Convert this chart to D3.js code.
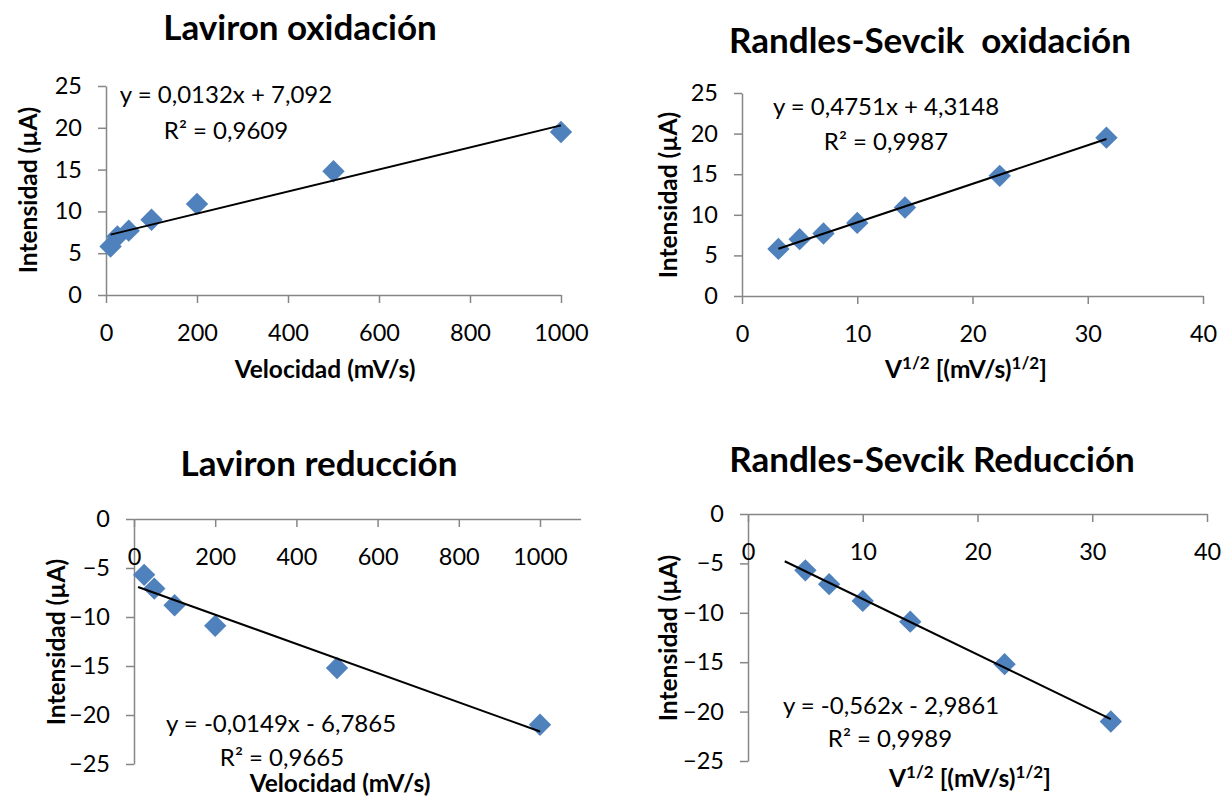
<!DOCTYPE html>
<html><head><meta charset="utf-8">
<script src="https://cdn.jsdelivr.net/npm/d3@7"></script>
<style>
body{margin:0;background:#fff}
text{font-family:Lato,'Open Sans',sans-serif;fill:#000}
</style>
</head><body>
<svg id="chart" width="1221" height="796"></svg>
<script>
// ---------- data ----------
const velocidadOx = [10, 25, 50, 100, 200, 500, 1000];
const raizVelOx = [3.16, 5.00, 7.07, 10.00, 14.14, 22.36, 31.62];
const intensidadOx = [5.8, 7.0, 7.7, 9.0, 10.9, 14.8, 19.5];
const velocidadRed = [25, 50, 100, 200, 500, 1000];
const raizVelRed = [5.00, 7.07, 10.00, 14.14, 22.36, 31.62];
const intensidadRed = [-5.7, -7.1, -8.8, -10.9, -15.2, -21.0];

const chartTitles = ["Laviron oxidación", "Randles-Sevcik  oxidación", "Laviron reducción", "Randles-Sevcik Reducción"];
const ticksVel = [0, 200, 400, 600, 800, 1000];
const ticksRaiz = [0, 10, 20, 30, 40];
const ticksOx = [0, 5, 10, 15, 20, 25];
const ticksRed = [0, -5, -10, -15, -20, -25];

const trendSlopes = [0.0132, 0.4751, -0.0149, -0.562];
const trendIntercepts = [7.092, 4.3148, -6.7865, -2.9861];
const trendFrom = [10, 3.16, 10, 3.2];
const trendTo = [1000, 31.62, 1000, 31.62];
const eqLabels = ["y = 0,0132x + 7,092", "y = 0,4751x + 4,3148", "y = -0,0149x - 6,7865", "y = -0,562x - 2,9861"];
const r2Labels = ["R² = 0,9609", "R² = 0,9987", "R² = 0,9665", "R² = 0,9989"];

// ---------- layout ----------
const panels = [
  {xs: velocidadOx, ys: intensidadOx, xDom: [0, 1000], yDom: [0, 25], xTicks: ticksVel, yTicks: ticksOx,
   xR: [106, 561], yR: [295, 86], title: [300, 40], xt: [325, 378], yt: [37, 190], eq: [226, 103], r2: [226, 139], raiz: false},
  {xs: raizVelOx, ys: intensidadOx, xDom: [0, 40], yDom: [0, 25], xTicks: ticksRaiz, yTicks: ticksOx,
   xR: [742, 1203], yR: [296, 93], title: [930, 53], xt: [966, 378], yt: [677, 195], eq: [886, 115], r2: [886, 150], raiz: true},
  {xs: velocidadRed, ys: intensidadRed, xDom: [0, 1100], yDom: [0, -25], xTicks: ticksVel, yTicks: ticksRed,
   xR: [134, 580.6], yR: [519, 764], title: [319, 476], xt: [340, 792], yt: [65, 642], eq: [281, 732], r2: [282, 766], raiz: false},
  {xs: raizVelRed, ys: intensidadRed, xDom: [0, 40], yDom: [0, -25], xTicks: ticksRaiz, yTicks: ticksRed,
   xR: [748, 1207], yR: [514, 761], title: [932, 472], xt: [970, 787], yt: [677, 638], eq: [891, 714], r2: [890, 747], raiz: true}
];

const svg = d3.select("#chart");
const axisColor = "#868686";
const markerColor = "#4F81BD";

panels.forEach((p, i) => {
  const g = svg.append("g");
  const x = d3.scaleLinear().domain(p.xDom).range(p.xR);
  const y = d3.scaleLinear().domain(p.yDom).range(p.yR);

  // y axis
  const ya = g.append("g").attr("transform", `translate(${p.xR[0]},0)`)
    .call(d3.axisLeft(y).tickValues(p.yTicks).tickSize(8).tickSizeOuter(0).tickPadding(16).tickFormat(d3.format("d")));
  // x axis (at y = 0)
  const xa = g.append("g").attr("transform", `translate(0,${y(0)})`)
    .call(d3.axisBottom(x).tickValues(p.xTicks).tickSize(8).tickSizeOuter(0).tickPadding(21).tickFormat(d3.format("d")));
  [ya, xa].forEach(a => {
    a.selectAll("path.domain").attr("stroke", axisColor).attr("stroke-width", 1.5);
    a.selectAll(".tick line").attr("stroke", axisColor).attr("stroke-width", 1.5);
    a.selectAll(".tick text").attr("font-family", "Lato").attr("font-size", 23.5).attr("fill", "#000");
  });

  // markers
  g.selectAll("path.pt").data(p.xs.map((v, k) => [v, p.ys[k]])).join("path")
    .attr("class", "pt")
    .attr("d", d3.symbol(d3.symbolSquare, 250)())
    .attr("transform", d => `translate(${x(d[0])},${y(d[1])}) rotate(45)`)
    .attr("fill", markerColor);

  // trendline
  const tl = [trendFrom[i], trendTo[i]].map(v => [v, trendSlopes[i] * v + trendIntercepts[i]]);
  g.append("path").attr("d", d3.line().x(d => x(d[0])).y(d => y(d[1]))(tl))
    .attr("stroke", "#000").attr("stroke-width", 2).attr("fill", "none");

  // title
  g.append("text").attr("x", p.title[0]).attr("y", p.title[1]).attr("text-anchor", "middle")
    .attr("font-weight", "bold").attr("font-size", 35).style("white-space", "pre").text(chartTitles[i]);

  // x axis title
  const xt = g.append("text").attr("x", p.xt[0]).attr("y", p.xt[1]).attr("text-anchor", "middle")
    .attr("font-weight", "bold").attr("font-size", 24.5);
  if (p.raiz) {
    xt.append("tspan").text("V");
    xt.append("tspan").attr("font-size", 17).attr("dy", -9).text("1/2");
    xt.append("tspan").attr("dy", 9).text(" [(mV/s)");
    xt.append("tspan").attr("font-size", 17).attr("dy", -9).text("1/2");
    xt.append("tspan").attr("dy", 9).text("]");
  } else {
    xt.text("Velocidad (mV/s)");
  }

  // y axis title
  g.append("text").attr("transform", `translate(${p.yt[0]},${p.yt[1]}) rotate(-90)`)
    .attr("text-anchor", "middle").attr("font-weight", "bold").attr("font-size", 24.5)
    .text("Intensidad (µA)");

  // equation
  g.append("text").attr("x", p.eq[0]).attr("y", p.eq[1]).attr("text-anchor", "middle")
    .attr("font-size", 24).text(eqLabels[i]);
  g.append("text").attr("x", p.r2[0]).attr("y", p.r2[1]).attr("text-anchor", "middle")
    .attr("font-size", 24).text(r2Labels[i]);
});
</script>
</body></html>
